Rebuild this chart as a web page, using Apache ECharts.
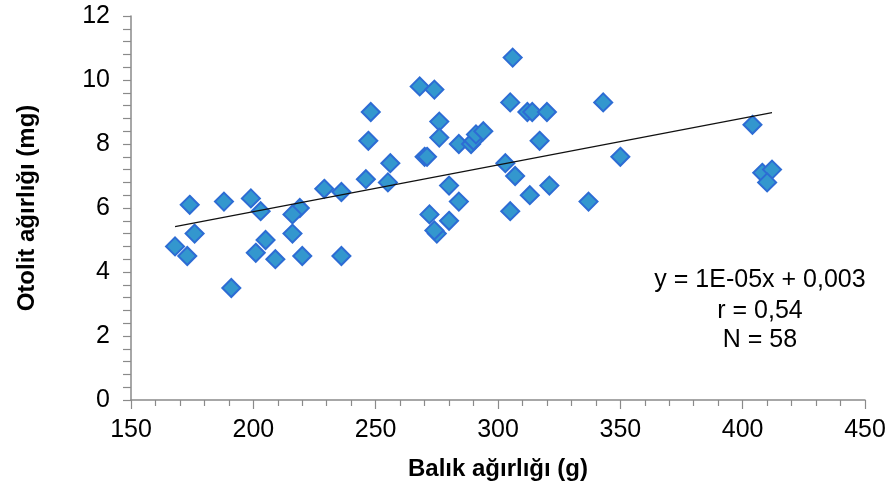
<!DOCTYPE html>
<html>
<head>
<meta charset="utf-8">
<script src="https://cdn.jsdelivr.net/npm/echarts@6/dist/echarts.min.js"></script>
<style>
html,body{margin:0;padding:0;background:#fff;}
#chart{width:894px;height:493px;}
</style>
</head>
<body>
<div id="chart"></div>
<script>
// Fish weight (g)
var fishWeight = [168,174,176,173,188,191,199,203,205,201,209,219,216,216,220,229,236,236,246,247,248,256,255,268,274,276,276,270,271,280,284,272,280,275,274,284,289,290,291,294,306,305,312,314,320,317,303,307,305,313,321,337,343,350,404,408,412,410];
// Otolith weight (mg)
var otolithWeight = [4.8,6.1,5.2,4.5,6.2,3.5,6.3,5.9,5.0,4.6,4.4,6.0,5.8,5.2,4.5,6.6,6.5,4.5,6.9,8.1,9.0,7.4,6.8,9.8,9.7,8.7,8.2,7.6,7.6,6.7,6.2,5.8,5.6,5.2,5.3,8.0,8.0,8.1,8.3,8.4,10.7,9.3,9.0,9.0,9.0,8.1,7.4,7.0,5.9,6.4,6.7,6.2,9.3,7.6,8.6,7.1,7.2,6.8];
// Trend line end points
var trendX = [168, 412];
var trendY = [5.42, 8.98];
var annotationLines = ['y = 1E-05x + 0,003', 'r = 0,54', 'N = 58'];

var points = fishWeight.map(function (x, i) { return [x, otolithWeight[i]]; });
var trend = trendX.map(function (x, i) { return [x, trendY[i]]; });

var FONT = '"Liberation Sans", Arial, sans-serif';
var axisGray = '#8a8a8a';

var annotationY = [280, 311, 340];
var graphics = annotationLines.map(function (t, i) {
  return {
    type: 'text',
    x: 760, y: annotationY[i],
    style: {
      text: t,
      font: '25px ' + FONT,
      fill: '#000',
      align: 'center',
      verticalAlign: 'middle',
      textAlign: 'center',
      textVerticalAlign: 'middle'
    },
    z: 10
  };
});

var chart = echarts.init(document.getElementById('chart'), null, {renderer: 'canvas'});
chart.setOption({
  animation: false,
  backgroundColor: '#fff',
  textStyle: {fontFamily: FONT},
  grid: {left: 131, right: 29, top: 16, bottom: 93, containLabel: false},
  xAxis: {
    type: 'value', min: 150, max: 450, interval: 50,
    name: 'Balık ağırlığı (g)', nameLocation: 'middle', nameGap: 57,
    nameTextStyle: {fontFamily: FONT, fontWeight: 'bold', fontSize: 24, color: '#000'},
    axisLine: {show: true, lineStyle: {color: axisGray, width: 1.5}},
    axisTick: {show: true, inside: false, length: 9, lineStyle: {color: axisGray, width: 1.2}},
    minorTick: {show: true, splitNumber: 5, length: 6, lineStyle: {color: axisGray, width: 1.2}},
    axisLabel: {fontFamily: FONT, fontSize: 25, color: '#000', margin: 18},
    splitLine: {show: false}
  },
  yAxis: {
    type: 'value', min: 0, max: 12, interval: 2,
    name: 'Otolit ağırlığı (mg)', nameLocation: 'middle', nameGap: 92, nameRotate: 90,
    nameTextStyle: {fontFamily: FONT, fontWeight: 'bold', fontSize: 24, color: '#000'},
    axisLine: {show: true, lineStyle: {color: axisGray, width: 1.5}},
    axisTick: {show: true, inside: false, length: 8, lineStyle: {color: axisGray, width: 1.2}},
    minorTick: {show: true, splitNumber: 5, length: 8, lineStyle: {color: axisGray, width: 1.2}},
    axisLabel: {fontFamily: FONT, fontSize: 25, color: '#000', margin: 21},
    splitLine: {show: false}
  },
  series: [
    {
      type: 'scatter',
      data: points,
      symbol: 'diamond',
      symbolSize: [18, 18],
      itemStyle: {color: '#3397CE', borderColor: '#2D6CD4', borderWidth: 2, opacity: 1},
      z: 2
    },
    {
      type: 'line',
      data: trend,
      symbol: 'none',
      lineStyle: {color: '#111', width: 1.2},
      z: 3
    }
  ],
  graphic: graphics
});
</script>
</body>
</html>
